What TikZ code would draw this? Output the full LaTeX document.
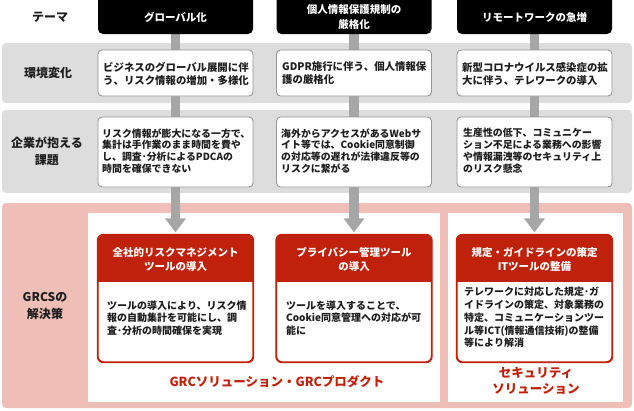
\documentclass[tikz,border=0pt]{standalone}
\usepackage{fontspec}
\setmainfont{Noto Sans CJK JP}
\usetikzlibrary{arrows.meta}
\definecolor{grcred}{RGB}{192,33,10}
\definecolor{grcpink}{RGB}{238,190,183}
\definecolor{bandgray}{RGB}{221,221,221}
\definecolor{bargray}{RGB}{166,166,166}
\definecolor{edgegray}{RGB}{150,150,150}
\definecolor{ink}{RGB}{30,30,30}
\pgfdeclarelayer{bands}
\pgfdeclarelayer{links}
\pgfsetlayers{bands,links,main}
\tikzset{
  rowlabel/.style={font=\bfseries\fontsize{12}{17}\selectfont, text=ink, align=center, inner sep=0},
  themebox/.style={fill=black, rounded corners=5pt, minimum width=155pt, minimum height=44pt, inner sep=0},
  themetext/.style={font=\bfseries\fontsize{10.5}{15}\selectfont, text=white, align=center, inner sep=0},
  band/.style={fill=bandgray, rounded corners=4pt, inner sep=0},
  infobox/.style={draw=edgegray, line width=0.9pt, fill=white, rounded corners=4pt, minimum width=155pt, inner sep=0},
  envtext/.style={font=\bfseries\fontsize{10.4}{13}\selectfont, text=ink, align=left, inner sep=0, anchor=west},
  chtext/.style={font=\bfseries\fontsize{9.9}{11.9}\selectfont, text=ink, align=left, inner sep=0, anchor=west},
  solbox/.style={draw=grcred, line width=1.2pt, fill=white, rounded corners=6pt, minimum width=155pt, minimum height=127pt, inner sep=0},
  soltitle/.style={font=\bfseries\fontsize{10.5}{14}\selectfont, text=white, align=center, inner sep=0},
  soltext/.style={font=\bfseries\fontsize{10}{12.7}\selectfont, text=ink, align=left, inner sep=0, anchor=west},
  redlabel/.style={font=\bfseries\fontsize{12.5}{16}\selectfont, text=grcred, align=center, inner sep=0},
  link/.style={draw=bargray, line width=9.5pt, -{Triangle[width=20pt,length=14pt]}, shorten >=2pt},
}
\begin{document}
\begin{tikzpicture}[x=1pt,y=-1pt]
\useasboundingbox (0,0) rectangle (634,410);

% bands and panels
\begin{pgfonlayer}{bands}
\node[band, minimum width=630pt, minimum height=60pt] (band1) at (317,73) {};
\node[band, minimum width=630pt, minimum height=83pt] (band2) at (317,151.5) {};
\node[fill=grcpink, rounded corners=4pt, inner sep=0, minimum width=630pt, minimum height=205pt] (pinkband) at (317,305.5) {};
\node[fill=white, inner sep=0, minimum width=352pt, minimum height=189pt] (panel1) at (264,307.5) {};
\node[fill=white, inner sep=0, minimum width=175pt, minimum height=189pt] (panel2) at (535.5,307.5) {};
\end{pgfonlayer}

% row labels
\node[rowlabel] (l1) at (50,17) {テーマ};
\node[rowlabel] (l2) at (48,73) {環境変化};
\node[rowlabel] (l3) at (47,151) {企業が抱える\\課題};
\node[rowlabel] (l4) at (45,306) {GRCSの\\解決策};

% theme boxes
\node[themebox] (h1) at (175.5,12) {};
\node[themebox] (h2) at (354,12) {};
\node[themebox] (h3) at (534.5,12) {};
\node[themetext] (h1t) at (175.5,17.5) {グローバル化};
\node[themetext] (h2t) at (354,17) {個人情報保護規制の\\厳格化};
\node[themetext] (h3t) at (534.5,17.5) {リモートワークの急増};

% environment change boxes
\node[infobox, minimum height=46pt] (e1) at (175.5,73) {};
\node[infobox, minimum height=46pt] (e2) at (354,73) {};
\node[infobox, minimum height=46pt] (e3) at (534.5,73) {};
\node[envtext] (e1t) at (103,73.5) {ビジネスのグローバル展開に伴\\う、リスク情報の増加・多様化};
\node[envtext] (e2t) at (282,73.5) {GDPR施行に伴う、個人情報保\\護の厳格化};
\node[envtext] (e3t) at (462,73.5) {新型コロナウイルス感染症の拡\\大に伴う、テレワークの導入};

% challenge boxes
\node[infobox, minimum height=70pt] (c1) at (175.5,152) {};
\node[infobox, minimum height=70pt] (c2) at (354,152) {};
\node[infobox, minimum height=70pt] (c3) at (534.5,152) {};
\node[chtext] (c1t) at (102,151) {リスク情報が膨大になる一方で、\\集計は手作業のまま時間を費や\\し、調査･分析によるPDCAの\\時間を確保できない};
\node[chtext] (c2t) at (281,151) {海外からアクセスがあるWebサ\\イト等では、Cookie同意制御\\の対応等の遅れが法律違反等の\\リスクに繋がる};
\node[chtext] (c3t) at (463,151) {生産性の低下、コミュニケー\\ション不足による業務への影響\\や情報漏洩等のセキュリティ上\\のリスク懸念};

% solution boxes
\node[solbox] (s1) at (175.5,298.5) {};
\node[solbox] (s2) at (354,298.5) {};
\node[solbox] (s3) at (534.5,298.5) {};
\begin{scope}
\clip[rounded corners=6pt] (s1.north west) rectangle (s1.south east);
\fill[grcred] (s1.north west) rectangle (253,282);
\end{scope}
\begin{scope}
\clip[rounded corners=6pt] (s2.north west) rectangle (s2.south east);
\fill[grcred] (s2.north west) rectangle (431.5,282);
\end{scope}
\begin{scope}
\clip[rounded corners=6pt] (s3.north west) rectangle (s3.south east);
\fill[grcred] (s3.north west) rectangle (612,282);
\end{scope}
\draw[grcred, line width=1.2pt, rounded corners=6pt] (s1.north west) rectangle (s1.south east);
\draw[grcred, line width=1.2pt, rounded corners=6pt] (s2.north west) rectangle (s2.south east);
\draw[grcred, line width=1.2pt, rounded corners=6pt] (s3.north west) rectangle (s3.south east);
\node[soltitle] (s1h) at (175.5,259) {全社的リスクマネジメント\\ツールの導入};
\node[soltitle] (s2h) at (354,259) {プライバシー管理ツール\\の導入};
\node[soltitle] (s3h) at (534.5,259) {規定・ガイドラインの策定\\ITツールの整備};
\node[soltext] (s1t) at (107,318) {ツールの導入により、リスク情\\報の自動集計を可能にし、調\\査･分析の時間確保を実現};
\node[soltext] (s2t) at (286,318) {ツールを導入することで、\\Cookie同意管理への対応が可\\能に};
\node[soltext] (s3t) at (464,317.5) {テレワークに対応した規定･ガ\\イドラインの策定、対象業務の\\特定、コミュニケーションツー\\ル等ICT(情報通信技術)の整備\\等により解消};

% bottom labels
\node[redlabel] (g1) at (277,382) {GRCソリューション・GRCプロダクト};
\node[redlabel] (g2) at (536,381) {セキュリティ\\ソリューション};

% connectors
\begin{pgfonlayer}{links}
\draw[link] (h1.south) -- (s1.north);
\draw[link] (h2.south) -- (s2.north);
\draw[link] (h3.south) -- (s3.north);
\end{pgfonlayer}
\end{tikzpicture}
\end{document}
